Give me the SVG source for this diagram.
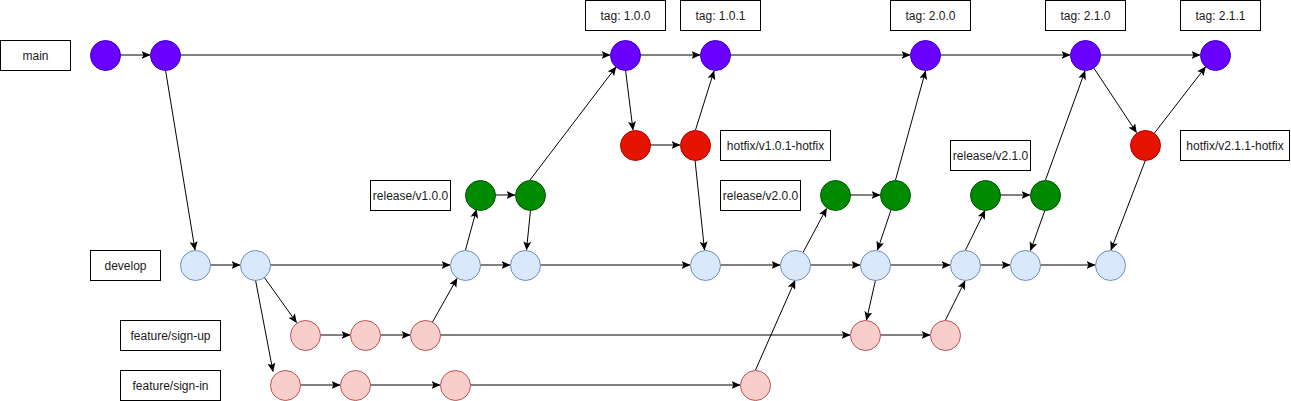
<svg xmlns="http://www.w3.org/2000/svg" width="1291" height="401" viewBox="0 0 1291 401">
<style>
.lbl{fill:#ffffff;stroke:#000000;stroke-width:1}
.t{font-family:"Liberation Sans",Arial,sans-serif;font-size:12px;fill:#1a1a1a;text-anchor:middle;dominant-baseline:central}
.main{fill:#6a00ff;stroke:#3700cc;stroke-width:1}
.hot{fill:#e51400;stroke:#b20000;stroke-width:1}
.rel{fill:#008a00;stroke:#005700;stroke-width:1}
.dev{fill:#dae8fc;stroke:#6c8ebf;stroke-width:1}
.feat{fill:#f8cecc;stroke:#b85450;stroke-width:1}
.e{stroke:#000000;stroke-width:1;fill:none;marker-end:url(#arr)}
</style>
<defs>
<marker id="arr" markerUnits="userSpaceOnUse" viewBox="0 0 9 8" markerWidth="9" markerHeight="8" refX="8.5" refY="4" orient="auto">
<path d="M0,0 L9,4 L0,8 L2,4 z" fill="#000000"/>
</marker>
</defs>
<rect width="1291" height="401" fill="#ffffff"/>

<g id="connectors">
<line class="e" x1="120" y1="55" x2="150" y2="55"/>
<line class="e" x1="180" y1="55" x2="610" y2="55"/>
<line class="e" x1="640" y1="55" x2="700" y2="55"/>
<line class="e" x1="730" y1="55" x2="910" y2="55"/>
<line class="e" x1="940" y1="55" x2="1070" y2="55"/>
<line class="e" x1="1100" y1="55" x2="1200" y2="55"/>
<line class="e" x1="165.5" y1="70" x2="195" y2="250"/>
<line class="e" x1="210" y1="265" x2="240" y2="265"/>
<line class="e" x1="270" y1="265" x2="450" y2="265"/>
<line class="e" x1="264" y1="277" x2="296.5" y2="322.5"/>
<line class="e" x1="255.5" y1="280" x2="273" y2="371.5"/>
<line class="e" x1="320" y1="335" x2="350" y2="335"/>
<line class="e" x1="380" y1="335" x2="410" y2="335"/>
<line class="e" x1="432.5" y1="322" x2="457" y2="278.5"/>
<line class="e" x1="440" y1="335" x2="850" y2="335"/>
<line class="e" x1="300" y1="385" x2="340" y2="385"/>
<line class="e" x1="370" y1="385" x2="440" y2="385"/>
<line class="e" x1="470" y1="385" x2="740" y2="385"/>
<line class="e" x1="755.5" y1="370" x2="795" y2="280.5"/>
<line class="e" x1="480" y1="265" x2="510" y2="265"/>
<line class="e" x1="465.5" y1="250" x2="476.5" y2="209.5"/>
<line class="e" x1="495" y1="195" x2="515" y2="195"/>
<line class="e" x1="530.5" y1="210" x2="526.5" y2="250"/>
<line class="e" x1="530" y1="180" x2="616" y2="67"/>
<line class="e" x1="625.5" y1="70" x2="633" y2="130"/>
<line class="e" x1="650" y1="145" x2="680" y2="145"/>
<line class="e" x1="695.5" y1="130" x2="714" y2="71"/>
<line class="e" x1="695" y1="160" x2="704.5" y2="250"/>
<line class="e" x1="540" y1="265" x2="690" y2="265"/>
<line class="e" x1="720" y1="265" x2="780" y2="265"/>
<line class="e" x1="803" y1="252.5" x2="826.5" y2="208.5"/>
<line class="e" x1="850" y1="195" x2="880" y2="195"/>
<line class="e" x1="891" y1="210" x2="877.5" y2="250"/>
<line class="e" x1="895.5" y1="180" x2="925.5" y2="71"/>
<line class="e" x1="810" y1="265" x2="860" y2="265"/>
<line class="e" x1="875.5" y1="280" x2="866.5" y2="320"/>
<line class="e" x1="880" y1="335" x2="930" y2="335"/>
<line class="e" x1="945.5" y1="320" x2="965" y2="281"/>
<line class="e" x1="890" y1="265" x2="950" y2="265"/>
<line class="e" x1="965.5" y1="250" x2="985" y2="210.5"/>
<line class="e" x1="1000" y1="195" x2="1030" y2="195"/>
<line class="e" x1="1045" y1="210" x2="1030.5" y2="250.5"/>
<line class="e" x1="1045.5" y1="180" x2="1085" y2="71"/>
<line class="e" x1="980" y1="265" x2="1010" y2="265"/>
<line class="e" x1="1040" y1="265" x2="1095" y2="265"/>
<line class="e" x1="1093.5" y1="67.5" x2="1136.5" y2="132.5"/>
<line class="e" x1="1154.5" y1="133" x2="1205.5" y2="67"/>
<line class="e" x1="1145.5" y1="160" x2="1111" y2="250"/>
</g>

<g id="label-main"><rect class="lbl" x="0.5" y="40.5" width="70" height="30"/><text class="t" x="35.5" y="55.5">main</text></g>
<g id="label-develop"><rect class="lbl" x="90.5" y="250.5" width="70" height="30"/><text class="t" x="125.5" y="265.5">develop</text></g>
<g id="label-signup"><rect class="lbl" x="120.5" y="320.5" width="100" height="30"/><text class="t" x="170.5" y="335.5">feature/sign-up</text></g>
<g id="label-signin"><rect class="lbl" x="120.5" y="370.5" width="100" height="30"/><text class="t" x="170.5" y="385.5">feature/sign-in</text></g>
<g id="tag-100"><rect class="lbl" x="585.5" y="0.5" width="80" height="30"/><text class="t" x="625.5" y="15.5">tag: 1.0.0</text></g>
<g id="tag-101"><rect class="lbl" x="680.5" y="0.5" width="80" height="30"/><text class="t" x="720.5" y="15.5">tag: 1.0.1</text></g>
<g id="tag-200"><rect class="lbl" x="890.5" y="0.5" width="80" height="30"/><text class="t" x="930.5" y="15.5">tag: 2.0.0</text></g>
<g id="tag-210"><rect class="lbl" x="1045.5" y="0.5" width="80" height="30"/><text class="t" x="1085.5" y="15.5">tag: 2.1.0</text></g>
<g id="tag-211"><rect class="lbl" x="1180.5" y="0.5" width="80" height="30"/><text class="t" x="1220.5" y="15.5">tag: 2.1.1</text></g>
<g id="label-hotfix101"><rect class="lbl" x="720.5" y="130.5" width="110" height="30"/><text class="t" x="775.5" y="145.5">hotfix/v1.0.1-hotfix</text></g>
<g id="label-hotfix211"><rect class="lbl" x="1180.5" y="130.5" width="109" height="30"/><text class="t" x="1235" y="145.5">hotfix/v2.1.1-hotfix</text></g>
<g id="label-release100"><rect class="lbl" x="370.5" y="180.5" width="80" height="30"/><text class="t" x="410.5" y="195.5">release/v1.0.0</text></g>
<g id="label-release200"><rect class="lbl" x="720.5" y="180.5" width="80" height="30"/><text class="t" x="760.5" y="195.5">release/v2.0.0</text></g>
<g id="label-release210"><rect class="lbl" x="950.5" y="140.5" width="80" height="30"/><text class="t" x="990.5" y="155.5">release/v2.1.0</text></g>

<g id="main-1"><circle class="main" cx="105.5" cy="55.5" r="15"/></g>
<g id="main-2"><circle class="main" cx="165.5" cy="55.5" r="15"/></g>
<g id="main-100"><circle class="main" cx="625.5" cy="55.5" r="15"/></g>
<g id="main-101"><circle class="main" cx="715.5" cy="55.5" r="15"/></g>
<g id="main-200"><circle class="main" cx="925.5" cy="55.5" r="15"/></g>
<g id="main-210"><circle class="main" cx="1085.5" cy="55.5" r="15"/></g>
<g id="main-211"><circle class="main" cx="1215.5" cy="55.5" r="15"/></g>

<g id="hotfix-1"><circle class="hot" cx="635.5" cy="145.5" r="15"/></g>
<g id="hotfix-2"><circle class="hot" cx="695.5" cy="145.5" r="15"/></g>
<g id="hotfix-3"><circle class="hot" cx="1145.5" cy="145.5" r="15"/></g>

<g id="release-1"><circle class="rel" cx="480.5" cy="195.5" r="15"/></g>
<g id="release-2"><circle class="rel" cx="530.5" cy="195.5" r="15"/></g>
<g id="release-3"><circle class="rel" cx="835.5" cy="195.5" r="15"/></g>
<g id="release-4"><circle class="rel" cx="895.5" cy="195.5" r="15"/></g>
<g id="release-5"><circle class="rel" cx="985.5" cy="195.5" r="15"/></g>
<g id="release-6"><circle class="rel" cx="1045.5" cy="195.5" r="15"/></g>

<g id="develop-1"><circle class="dev" cx="195.5" cy="265.5" r="15"/></g>
<g id="develop-2"><circle class="dev" cx="255.5" cy="265.5" r="15"/></g>
<g id="develop-3"><circle class="dev" cx="465.5" cy="265.5" r="15"/></g>
<g id="develop-4"><circle class="dev" cx="525.5" cy="265.5" r="15"/></g>
<g id="develop-5"><circle class="dev" cx="705.5" cy="265.5" r="15"/></g>
<g id="develop-6"><circle class="dev" cx="795.5" cy="265.5" r="15"/></g>
<g id="develop-7"><circle class="dev" cx="875.5" cy="265.5" r="15"/></g>
<g id="develop-8"><circle class="dev" cx="965.5" cy="265.5" r="15"/></g>
<g id="develop-9"><circle class="dev" cx="1025.5" cy="265.5" r="15"/></g>
<g id="develop-10"><circle class="dev" cx="1110.5" cy="265.5" r="15"/></g>

<g id="signup-1"><circle class="feat" cx="305.5" cy="335.5" r="15"/></g>
<g id="signup-2"><circle class="feat" cx="365.5" cy="335.5" r="15"/></g>
<g id="signup-3"><circle class="feat" cx="425.5" cy="335.5" r="15"/></g>
<g id="signup-4"><circle class="feat" cx="865.5" cy="335.5" r="15"/></g>
<g id="signup-5"><circle class="feat" cx="945.5" cy="335.5" r="15"/></g>

<g id="signin-1"><circle class="feat" cx="285.5" cy="385.5" r="15"/></g>
<g id="signin-2"><circle class="feat" cx="355.5" cy="385.5" r="15"/></g>
<g id="signin-3"><circle class="feat" cx="455.5" cy="385.5" r="15"/></g>
<g id="signin-4"><circle class="feat" cx="755.5" cy="385.5" r="15"/></g>
</svg>
